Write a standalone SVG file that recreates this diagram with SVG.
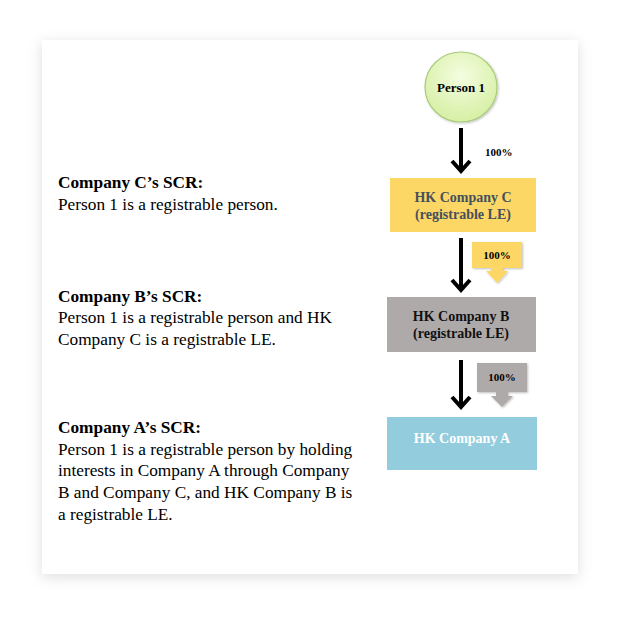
<svg xmlns="http://www.w3.org/2000/svg" width="620" height="617" viewBox="0 0 620 617">
<defs>
<filter id="shadow" x="-10%" y="-10%" width="120%" height="120%">
<feDropShadow dx="0" dy="3" stdDeviation="7" flood-color="#000" flood-opacity="0.13"/>
</filter>
<filter id="soft" x="-20%" y="-20%" width="140%" height="140%">
<feDropShadow dx="1" dy="1" stdDeviation="1" flood-color="#000" flood-opacity="0.25"/>
</filter>
<radialGradient id="pg" cx="50%" cy="35%" r="60%">
<stop offset="0" stop-color="#f4fde0"/>
<stop offset="1" stop-color="#d8f0a8"/>
</radialGradient>
</defs>
<style>
.body{font-family:"Liberation Serif","Times New Roman",serif;font-size:17.3px;fill:#000}
.b{font-weight:bold}
.lbl{font-family:"Liberation Serif","Times New Roman",serif;font-weight:bold;font-size:14px;text-anchor:middle}
.pct{font-family:"Liberation Serif","Times New Roman",serif;font-weight:bold;font-size:11px;fill:#000}
.arr{fill:none;stroke:#000;stroke-width:4}
</style>
<rect x="42" y="40" width="536" height="534" fill="#fff" filter="url(#shadow)"/>
<g id="text-c">
<text class="body b" x="58" y="188">Company C’s SCR:</text>
<text class="body" x="58" y="210">Person 1 is a registrable person.</text>
</g>
<g id="text-b">
<text class="body b" x="58" y="302">Company B’s SCR:</text>
<text class="body" x="58" y="323">Person 1 is a registrable person and HK</text>
<text class="body" x="58" y="345">Company C is a registrable LE.</text>
</g>
<g id="text-a">
<text class="body b" x="58" y="433">Company A’s SCR:</text>
<text class="body" x="58" y="455">Person 1 is a registrable person by holding</text>
<text class="body" x="58" y="476">interests in Company A through Company</text>
<text class="body" x="58" y="498">B and Company C, and HK Company B is</text>
<text class="body" x="58" y="520">a registrable LE.</text>
</g>
<g id="person1">
<ellipse cx="461" cy="87" rx="36" ry="35" fill="url(#pg)" stroke="#a9cc7a" stroke-width="1.2" filter="url(#soft)"/>
<text class="lbl" x="461" y="92" fill="#000" style="font-size:13px">Person 1</text>
</g>
<g id="companyC">
<rect x="390" y="178" width="146" height="54" fill="#fcd766"/>
<text class="lbl" x="463" y="202" fill="#46505c">HK Company C</text>
<text class="lbl" x="463" y="219" fill="#46505c">(registrable LE)</text>
</g>
<g id="companyB">
<rect x="387" y="297" width="149" height="55" fill="#aeaaaa"/>
<text class="lbl" x="461" y="321" fill="#111">HK Company B</text>
<text class="lbl" x="461" y="338" fill="#111">(registrable LE)</text>
</g>
<g id="companyA">
<rect x="387" y="417" width="150" height="53" fill="#93cddd"/>
<text class="lbl" x="462" y="443" fill="#fff">HK Company A</text>
</g>
<g id="connectors">
<path class="arr" d="M461,128 V171"/>
<path class="arr" d="M452,161 L461,171 L470,161"/>
<text class="pct" x="485" y="156">100%</text>
<path class="arr" d="M461,238 V290"/>
<path class="arr" d="M452,280 L461,290 L470,280"/>
<path d="M472,242 H522 V268 H503 V271 H508 L497,283 L486,271 H491 V268 H472 Z" fill="#fcd766" filter="url(#soft)"/>
<text class="pct" x="497" y="259" text-anchor="middle">100%</text>
<path class="arr" d="M461,360 V407"/>
<path class="arr" d="M452,397 L461,407 L470,397"/>
<path d="M477,363 H527 V392 H508 V396 H513 L502,407 L491,396 H496 V392 H477 Z" fill="#aeaaaa" filter="url(#soft)"/>
<text class="pct" x="502" y="381" text-anchor="middle">100%</text>
</g>
</svg>
